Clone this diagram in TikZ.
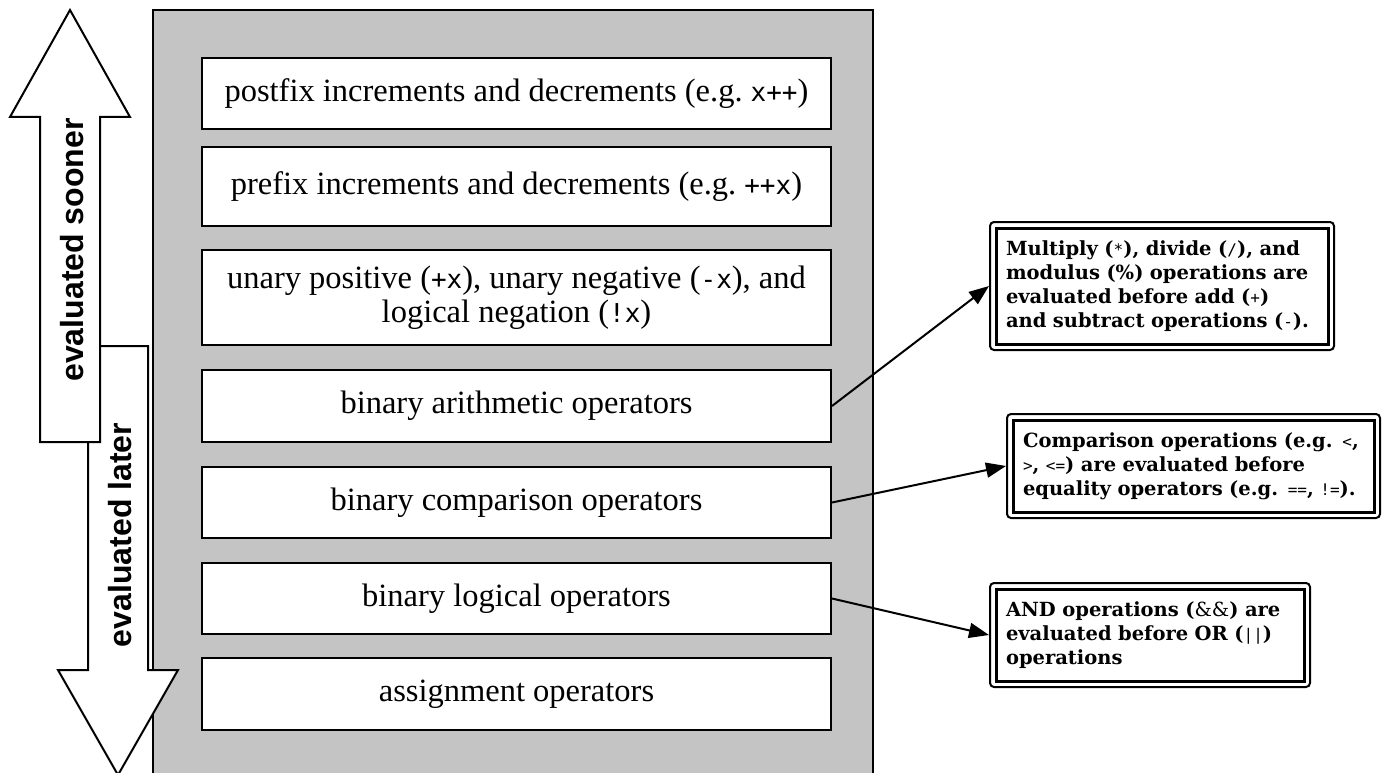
\documentclass[tikz,border=0pt]{standalone}
\usepackage{fontspec}
\setmainfont{Liberation Serif}
\setsansfont{Liberation Sans}
\newfontfamily\codefont{DejaVu Sans Mono}
\newfontfamily\notefont{DejaVu Serif}
\usetikzlibrary{arrows.meta}
\definecolor{panelgray}{RGB}{196,196,196}
\newcommand{\cx}[1]{{\codefont\fontsize{26}{26}\selectfont #1}}
\newcommand{\nc}[1]{{\codefont\mdseries\fontsize{16}{16}\selectfont #1}}
\begin{document}
\begin{tikzpicture}[x=1pt,y=-1pt,
  opbox/.style={draw, line width=2pt, fill=white, minimum width=629pt, align=center,
    font=\fontsize{32.5}{34}\selectfont, inner sep=0pt},
  note/.style={draw, line width=2pt, rounded corners=4pt, fill=white, align=left,
    font=\notefont\bfseries\fontsize{19.5}{24}\selectfont, inner xsep=16pt, inner ysep=0pt},
  link/.style={line width=2pt, -{Triangle[length=20pt,width=15pt]}},
  bigarrow/.style={draw, line width=2pt, fill=white, line join=miter},
  panel/.style={draw, line width=2pt, fill=panelgray},
  sidelabel/.style={font=\sffamily\bfseries\fontsize{32}{32}\selectfont, rotate=90}
]
\useasboundingbox (0,0) rectangle (1383,773);
\fill[white] (0,0) rectangle (1383,773);
% panel
\draw[panel] (153,10) rectangle (873,800);
% big arrows
\draw[bigarrow] (88,346) -- (148,346) -- (148,670) -- (178,670) -- (118,775) -- (58,670) -- (88,670) -- cycle;
\draw[bigarrow] (40,442) -- (40,117) -- (10,117) -- (70,10) -- (130,117) -- (100,117) -- (100,442) -- cycle;
\node[sidelabel] (sooner) at (72,250) {evaluated sooner};
\node[sidelabel] (later) at (120,535) {evaluated later};
% operator boxes
\node[opbox, minimum height=71pt] (b1) at (516.5,93.5) {postfix increments and decrements (e.g.\ \cx{x++})};
\node[opbox, minimum height=79pt] (b2) at (516.5,186.5) {prefix increments and decrements (e.g.\ \cx{++x})};
\node[opbox, minimum height=95pt] (b3) at (516.5,297.5) {unary positive (\cx{+x}), unary negative (\cx{-x}), and\\ logical negation (\cx{!x})};
\node[opbox, minimum height=72pt] (b4) at (516.5,406) {binary arithmetic operators};
\node[opbox, minimum height=71pt] (b5) at (516.5,502.5) {binary comparison operators};
\node[opbox, minimum height=71pt] (b6) at (516.5,598.5) {binary logical operators};
\node[opbox, minimum height=72pt] (b7) at (516.5,694) {assignment operators};
% notes
\node[note, text width=312pt, minimum height=128pt] (n1) at (1162,286) {Multiply (\nc{*}), divide (\nc{/}), and\\ modulus (\%) operations are\\ evaluated before add (\nc{+})\\ and subtract operations (\nc{-}).};
\node[note, text width=341pt, minimum height=104pt] (n2) at (1193.5,466) {Comparison operations (e.g. \nc{<},\\ \nc{>}, \nc{<=}) are evaluated before\\ equality operators (e.g. \nc{==}, \nc{!=}).};
\node[note, text width=288pt, minimum height=104pt] (n3) at (1150,635) {AND operations ({\mdseries\&\&}) are\\ evaluated before OR (\nc{||})\\ operations};
\foreach \n in {n1,n2,n3}
  \draw[line width=3pt] ([xshift=7pt,yshift=-7pt]\n.north west) rectangle ([xshift=-7pt,yshift=7pt]\n.south east);
% connectors
\draw[link] (b4.east) -- (n1.west);
\draw[link] (b5.east) -- (n2.west);
\draw[link] (b6.east) -- (n3.west);
\end{tikzpicture}
\end{document}
